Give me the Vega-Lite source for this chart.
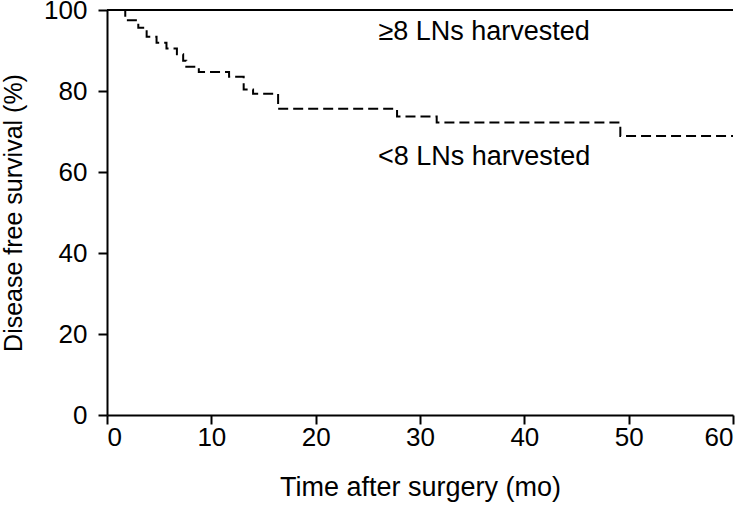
{
  "$schema": "https://vega.github.io/schema/vega-lite/v6.json",
  "width": 626,
  "height": 405,
  "autosize": "none",
  "padding": {"left": 107, "top": 10, "right": 17, "bottom": 93},
  "background": "white",
  "config": {
    "view": {"stroke": null},
    "font": "Liberation Sans",
    "axis": {
      "domainColor": "black", "domainWidth": 2, "tickColor": "black", "tickWidth": 2, "tickSize": 9,
      "labelColor": "black", "labelFontSize": 26, "labelFont": "Liberation Sans",
      "titleColor": "black", "titleFontWeight": "normal", "titleFont": "Liberation Sans",
      "grid": false
    }
  },
  "datasets": {
    "curves": [
      {"group": "ge8", "t": 0, "s": 100},
      {"group": "ge8", "t": 60, "s": 100},
      {"group": "lt8", "t": 0, "s": 100},
      {"group": "lt8", "t": 1.75, "s": 97.5},
      {"group": "lt8", "t": 3.0, "s": 95.6},
      {"group": "lt8", "t": 3.8, "s": 93.4},
      {"group": "lt8", "t": 4.75, "s": 91.9},
      {"group": "lt8", "t": 5.7, "s": 90.5},
      {"group": "lt8", "t": 6.7, "s": 89.1},
      {"group": "lt8", "t": 7.3, "s": 87.5},
      {"group": "lt8", "t": 7.6, "s": 86.0},
      {"group": "lt8", "t": 8.8, "s": 84.7},
      {"group": "lt8", "t": 11.7, "s": 83.5},
      {"group": "lt8", "t": 13.1, "s": 80.4},
      {"group": "lt8", "t": 14.0, "s": 79.3},
      {"group": "lt8", "t": 16.4, "s": 75.6},
      {"group": "lt8", "t": 27.8, "s": 73.7},
      {"group": "lt8", "t": 31.6, "s": 72.2},
      {"group": "lt8", "t": 49.2, "s": 68.9},
      {"group": "lt8", "t": 60, "s": 68.9}
    ],
    "labels": [
      {"t": 36.15, "s": 94.6, "text": "≥8 LNs harvested"},
      {"t": 36.15, "s": 63.7, "text": "<8 LNs harvested"}
    ]
  },
  "layer": [
    {
      "data": {"name": "curves"},
      "transform": [{"filter": "datum.group === 'lt8'"}],
      "mark": {"type": "line", "interpolate": "step-after", "color": "black", "strokeWidth": 2, "strokeDash": [10, 5]},
      "encoding": {
        "x": {"field": "t", "type": "quantitative", "scale": {"domain": [0, 60], "nice": false},
              "axis": {"values": [0, 10, 20, 30, 40, 50, 60], "title": "Time after surgery (mo)", "titleFontSize": 27, "labelPadding": 0, "titlePadding": 24}},
        "y": {"field": "s", "type": "quantitative", "scale": {"domain": [0, 100], "nice": false},
              "axis": {"values": [0, 20, 40, 60, 80, 100], "title": "Disease free survival (%)", "titleFontSize": 25, "labelPadding": 11, "titlePadding": 17}}
      }
    },
    {
      "data": {"name": "curves"},
      "transform": [{"filter": "datum.group === 'ge8'"}],
      "mark": {"type": "line", "interpolate": "step-after", "color": "black", "strokeWidth": 2},
      "encoding": {
        "x": {"field": "t", "type": "quantitative"},
        "y": {"field": "s", "type": "quantitative"}
      }
    },
    {
      "data": {"name": "labels"},
      "mark": {"type": "text", "fontSize": 27, "font": "Liberation Sans", "color": "black", "align": "center", "baseline": "middle"},
      "encoding": {
        "x": {"field": "t", "type": "quantitative"},
        "y": {"field": "s", "type": "quantitative"},
        "text": {"field": "text"}
      }
    }
  ]
}
